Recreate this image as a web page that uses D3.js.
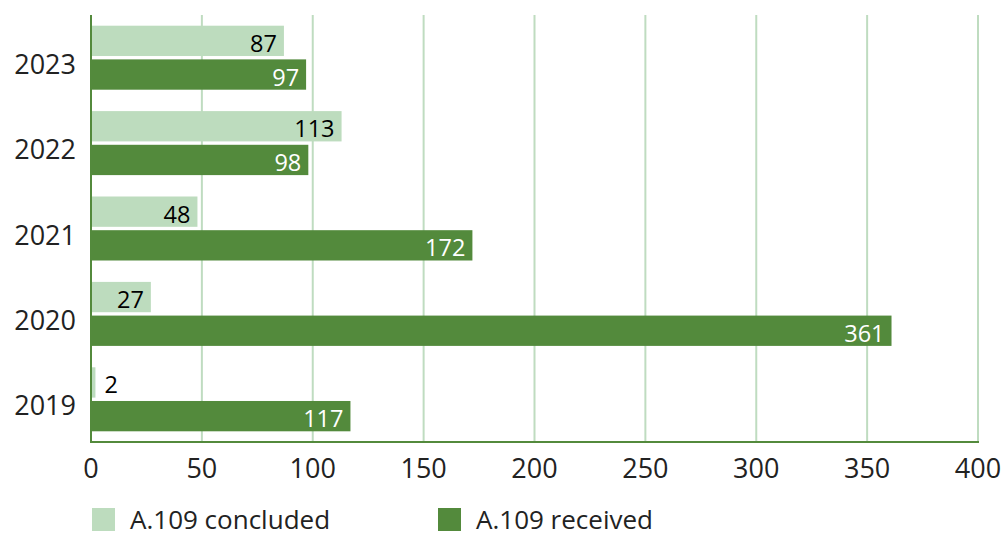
<!DOCTYPE html>
<html><head><meta charset="utf-8">
<script src="https://cdn.jsdelivr.net/npm/d3@7"></script>
<style>body{margin:0;background:#fff}svg{display:block;font-family:"Open Sans",sans-serif}</style>
</head><body>
<svg id="c" width="1006" height="537"></svg>
<script>
const years = ["2023","2022","2021","2020","2019"];
const concluded = [87,113,48,27,2];
const received = [97,98,172,361,117];
const xTicks = [0,50,100,150,200,250,300,350,400];
const seriesNames = ["A.109 concluded","A.109 received"];
const colors = ["#bddcbe","#538a3c"];

const svg = d3.select("#c");
const L=91, R=978, T=15, B=442;
const x = d3.scaleLinear().domain([0,400]).range([L,R]);
const y = d3.scaleBand().domain(years).range([T,B]).paddingInner(0).paddingOuter(0);
const sub = d3.scaleBand().domain([0,1]).range([10.7, y.bandwidth()-10.7]).paddingInner(0.1);

// gridlines
svg.append("g").selectAll("line").data(xTicks.filter(d=>d>0)).join("line")
  .attr("x1",d=>x(d)).attr("x2",d=>x(d)).attr("y1",T).attr("y2",B)
  .attr("stroke","#bfdcc0").attr("stroke-width",2);

const data = years.map((yr,i)=>({yr, vals:[concluded[i],received[i]]}));
const g = svg.append("g").selectAll("g").data(data).join("g")
  .attr("transform",d=>`translate(0,${y(d.yr)})`);
g.selectAll("rect").data(d=>d.vals.map((v,k)=>({v,k}))).join("rect")
  .attr("x",x(0)).attr("y",d=>sub(d.k)).attr("width",d=>x(d.v)-x(0))
  .attr("height",sub.bandwidth()).attr("fill",d=>colors[d.k]);
g.selectAll("text").data(d=>d.vals.map((v,k)=>({v,k}))).join("text")
  .attr("x",d=> d.v<10 ? x(d.v)+9 : x(d.v)-7)
  .attr("text-anchor",d=> d.v<10 ? "start":"end")
  .attr("y",d=>sub(d.k)+sub.bandwidth()/2+2)
  .attr("dominant-baseline","central")
  .attr("font-size",23.5)
  .attr("fill",d=>d.k===0?"#000":"#fff")
  .text(d=>d.v);

// axes lines
svg.append("line").attr("x1",L).attr("x2",L).attr("y1",T).attr("y2",B+1).attr("stroke","#538a3c").attr("stroke-width",2);
svg.append("line").attr("x1",L).attr("x2",R+1).attr("y1",B).attr("y2",B).attr("stroke","#538a3c").attr("stroke-width",2);

// y labels
svg.append("g").selectAll("text").data(years).join("text")
  .attr("x",76).attr("y",d=>y(d)+y.bandwidth()/2+5.5)
  .attr("dominant-baseline","central").attr("text-anchor","end")
  .attr("font-size",27).attr("fill","#222").text(d=>d);

// x labels
svg.append("g").selectAll("text").data(xTicks).join("text")
  .attr("x",d=>x(d)).attr("y",478).attr("text-anchor","middle")
  .attr("font-size",27).attr("fill","#222").text(d=>d);

// legend
const lx=[92,438];
const lg = svg.append("g").selectAll("g").data(seriesNames).join("g")
  .attr("transform",(d,i)=>`translate(${lx[i]},508)`);
lg.append("rect").attr("width",23).attr("height",23).attr("fill",(d,i)=>colors[i]);
lg.append("text").attr("x",38).attr("y",21).attr("font-size",26).attr("fill","#222").text(d=>d);
</script>
</body></html>
